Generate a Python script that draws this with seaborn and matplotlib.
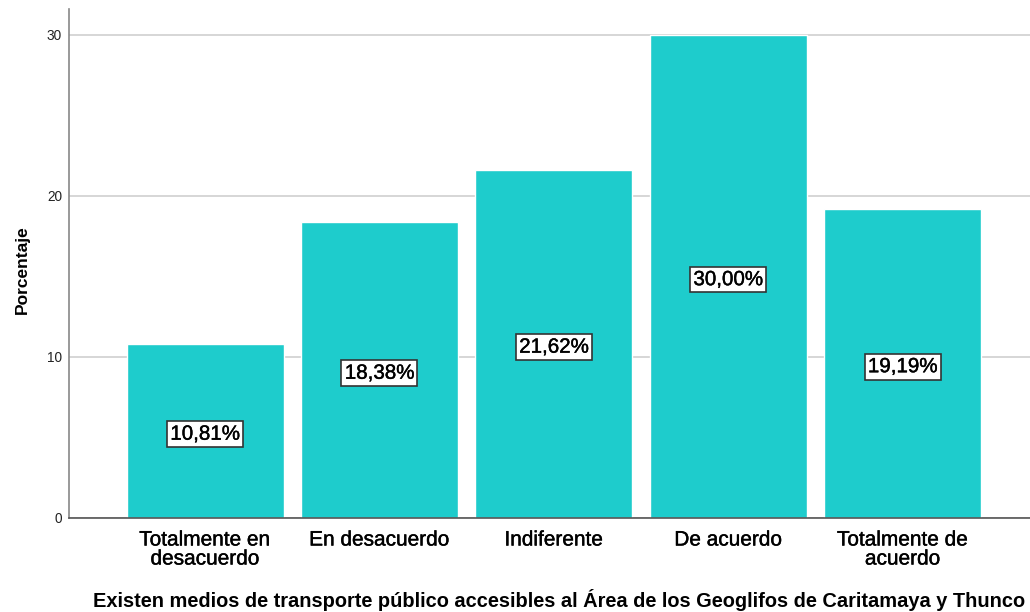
import matplotlib
matplotlib.use("Agg")
import matplotlib.pyplot as plt
import matplotlib.patheffects as pe
import seaborn as sns
import pandas as pd

categories = ["Totalmente en\ndesacuerdo", "En desacuerdo", "Indiferente", "De acuerdo", "Totalmente de\nacuerdo"]
values = [10.81, 18.38, 21.62, 30.00, 19.19]
labels = ["10,81%", "18,38%", "21,62%", "30,00%", "19,19%"]
yticks = [0, 10, 20, 30]

sns.set_theme(style="white")
plt.rcParams['font.family'] = ['Liberation Sans', 'DejaVu Sans']

df = pd.DataFrame({"cat": categories, "val": values})

fig = plt.figure(figsize=(10.3, 6.12), dpi=100)
ax = fig.add_axes([0.067, 0.1536, 0.933, 0.8314])

sns.barplot(data=df, x="cat", y="val", color="#1ecccc", saturation=1, width=0.9, ax=ax, zorder=2)

thick = [pe.withStroke(linewidth=0.3, foreground="black")]
for i, (v, lab) in enumerate(zip(values, labels)):
    ax.text(i, v / 2 - 0.2, lab, ha="center", va="center", fontsize=14.8, color="black",
            path_effects=thick,
            bbox=dict(boxstyle="square,pad=0.16", facecolor="white", edgecolor="#333333", linewidth=1.2), zorder=3)

ax.set_xlim(-0.78, 4.73)
ax.set_ylim(0, 31.6)
ax.set_yticks(yticks)
ax.set_yticklabels([str(t) for t in yticks], fontsize=9.8, color="#222222")
ax.tick_params(axis="x", labelsize=15, colors="black", length=0, pad=9)
ax.tick_params(axis="y", length=0, pad=5)
for t in ax.get_xticklabels():
    t.set_linespacing(1.0)
    t.set_path_effects(thick)

ax.yaxis.grid(True, color="#cfcfcf", linewidth=1.2, zorder=0)
ax.set_axisbelow(True)

ax.set_ylabel("Porcentaje", fontsize=12.5, fontweight="bold", color="black")
ax.yaxis.set_label_coords(-0.041, 0.489)
ax.set_xlabel("Existen medios de transporte público accesibles al Área de los Geoglifos de Caritamaya y Thunco",
              fontsize=14.4, fontweight="bold", labelpad=15, color="black")
ax.xaxis.label.set_x(0.5104)

for s in ["top", "right"]:
    ax.spines[s].set_visible(False)
ax.spines["left"].set_color("#888888")
ax.spines["bottom"].set_color("#555555")
ax.spines["left"].set_linewidth(1.2)
ax.spines["bottom"].set_linewidth(1.2)

fig.savefig("out.png", dpi=100)
